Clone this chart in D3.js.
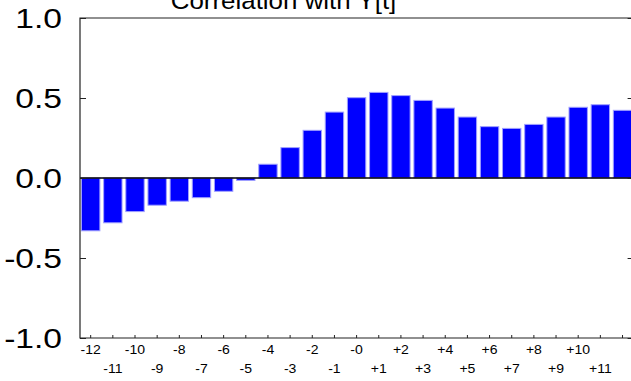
<!DOCTYPE html>
<html><head><meta charset="utf-8">
<script src="https://cdn.jsdelivr.net/npm/d3@7"></script>
<style>body{margin:0;background:#fff}svg{display:block}</style>
</head><body>
<script>
// ---- data ----
const lags = ["-12","-11","-10","-9","-8","-7","-6","-5","-4","-3","-2","-1","-0",
              "+1","+2","+3","+4","+5","+6","+7","+8","+9","+10","+11","+12"];
const correlations = [-0.33,-0.28,-0.21,-0.17,-0.145,-0.123,-0.083,-0.015,0.086,0.19,0.298,0.412,0.502,
                      0.535,0.515,0.485,0.437,0.381,0.321,0.31,0.335,0.381,0.442,0.458,0.423];
const shownLagLabels = ["-12","-11","-10","-9","-8","-7","-6","-5","-4","-3","-2","-1","-0",
                        "+1","+2","+3","+4","+5","+6","+7","+8","+9","+10","+11"];
const yTicks = [-1, -0.5, 0, 0.5, 1];
const yTickLabels = ["-1.0","-0.5","0.0","0.5","1.0"];
const titleText = "Correlation with Y[t]";

// ---- layout ----
const W = 631, H = 381;
const plotL = 80, plotR = 633.6, plotT = 18, plotB = 338;
const font = "'Liberation Sans', Arial, sans-serif";

const svg = d3.select("body").append("svg").attr("width", W).attr("height", H);

const x = d3.scaleBand().domain(lags).range([79.6, plotR]).paddingInner(0.17).paddingOuter(0.085);
const y = d3.scaleLinear().domain([-1, 1]).range([plotB, plotT]);

// bars
svg.append("g").selectAll("rect").data(correlations).join("rect")
  .attr("x", (d, i) => x(lags[i]))
  .attr("width", x.bandwidth())
  .attr("y", d => y(Math.max(0, d)))
  .attr("height", d => Math.abs(y(d) - y(0)))
  .attr("fill", "#0000ff")
  .attr("stroke", "#a0a0ff")
  .attr("stroke-width", 1);

// zero line
svg.append("line").attr("x1", plotL).attr("x2", W).attr("y1", y(0)).attr("y2", y(0))
  .attr("stroke", "#000").attr("stroke-width", 1.5);

// frame
svg.append("path")
  .attr("d", `M${plotL},${y(1)}H${plotR}V${y(-1)}H${plotL}Z`)
  .attr("fill", "none").attr("stroke", "#222").attr("stroke-width", 1.2);

// bottom axis (inward ticks)
const xAxis = svg.append("g").attr("transform", `translate(0,${plotB})`)
  .call(d3.axisBottom(x).tickSizeInner(-3).tickSizeOuter(0)
    .tickFormat(d => shownLagLabels.includes(d) ? d : ""));
xAxis.select(".domain").remove();
xAxis.selectAll(".tick line").attr("stroke", "#222");
xAxis.selectAll(".tick text")
  .attr("font-family", font).attr("font-size", 13).attr("fill", "#000")
  .attr("dy", null)
  .attr("y", (d, i) => i % 2 === 0 ? 16 : 35)
  .attr("transform", "scale(1.08,1)");

// left axis
const yAxis = svg.append("g").attr("transform", `translate(${plotL},0)`)
  .call(d3.axisLeft(y).tickValues(yTicks).tickSizeInner(-6).tickSizeOuter(0)
    .tickFormat((d, i) => yTickLabels[i]));
yAxis.select(".domain").remove();
yAxis.selectAll(".tick line").attr("stroke", "#222");
yAxis.selectAll(".tick text")
  .attr("font-family", font).attr("font-size", 28).attr("fill", "#000")
  .attr("x", 0).attr("dy", "0.35em")
  .attr("text-anchor", "end")
  .attr("transform", "translate(-18,0) scale(1.2,1)");

// right axis ticks
const rAxis = svg.append("g").attr("transform", `translate(${plotR},0)`)
  .call(d3.axisRight(y).tickValues(yTicks).tickSizeInner(-6).tickSizeOuter(0).tickFormat(""));
rAxis.select(".domain").remove();
rAxis.selectAll(".tick line").attr("stroke", "#222");

// title
svg.append("text")
  .attr("transform", "translate(283.5,9) scale(1.08,1)")
  .attr("text-anchor", "middle")
  .attr("font-family", font).attr("font-size", 24).attr("fill", "#000")
  .text(titleText);
</script>
</body></html>
